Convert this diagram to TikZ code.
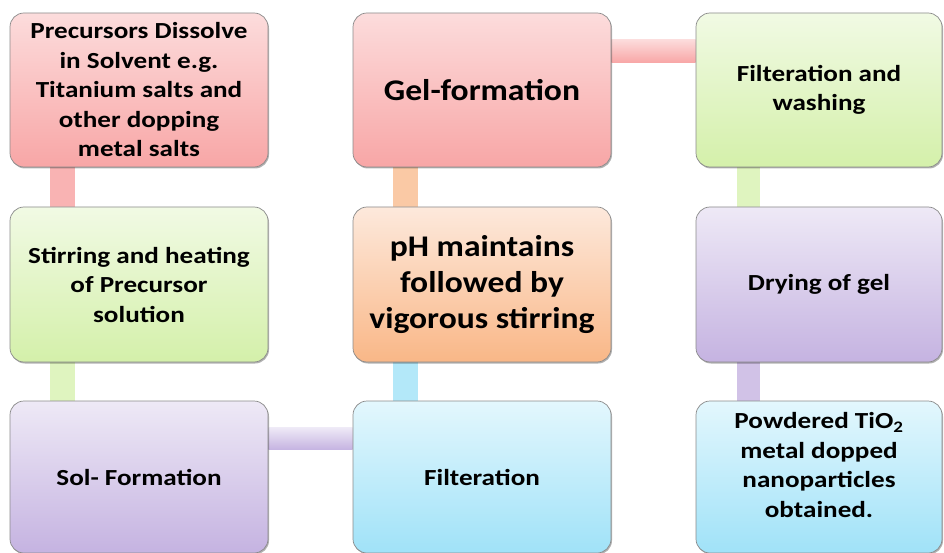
\documentclass[tikz,border=0pt]{standalone}
\usepackage{fontspec}
\setmainfont{Carlito}[FakeStretch=1.18]
\newfontfamily\bigfont{Carlito}[FakeStretch=1.12]
\usetikzlibrary{shadows,backgrounds,calc}
\definecolor{pinkT}{HTML}{FCDCDC}
\definecolor{pinkB}{HTML}{F8A6A6}
\definecolor{greenT}{HTML}{F1FAE4}
\definecolor{greenB}{HTML}{D4F0AA}
\definecolor{purpT}{HTML}{EEE9F6}
\definecolor{purpB}{HTML}{C5B3E1}
\definecolor{blueT}{HTML}{E3F7FD}
\definecolor{blueB}{HTML}{A0E2F8}
\definecolor{orT}{HTML}{FDE9DC}
\definecolor{orB}{HTML}{F9B787}
\definecolor{edge}{HTML}{8A8A8A}
\tikzset{
  box/.style={draw=edge, line width=0.7pt, rounded corners=14pt,
    minimum width=258pt, minimum height=154pt, align=center, inner sep=0pt,
    font=\bfseries\fontsize{23}{29.5}\selectfont,
    drop shadow={shadow xshift=1pt, shadow yshift=-1.5pt, opacity=0.3, fill=black}},
  bigtxt/.style={font=\bigfont\bfseries\fontsize{30}{36}\selectfont},
  pinkbox/.style={box, top color=pinkT, bottom color=pinkB},
  greenbox/.style={box, top color=greenT, bottom color=greenB},
  purpbox/.style={box, top color=purpT, bottom color=purpB},
  bluebox/.style={box, top color=blueT, bottom color=blueB},
  orbox/.style={box, top color=orT, bottom color=orB},
}
\begin{document}
\begin{tikzpicture}[x=1pt,y=-1pt]
\useasboundingbox (0,0) rectangle (944,553);
% column 1
\node[pinkbox] (p1) at (139,90) {Precursors Dissolve\\in Solvent e.g.\\Titanium salts and\\other dopping\\metal salts};
\node[greenbox, minimum height=155pt] (s2) at (139,284.5) {Stirring and heating\\of Precursor\\solution};
\node[purpbox, minimum height=152pt] (sf) at (139,477) {Sol- Formation};
% column 2
\node[bluebox, minimum height=152pt] (ft) at (482,477) {Filteration};
\node[orbox, bigtxt, minimum height=155pt] (ph) at (482,284.5) {pH maintains\\followed by\\vigorous stirring};
\node[pinkbox, bigtxt] (gel) at (482,90) {Gel-formation};
% column 3
\node[greenbox, minimum width=246pt] (fw) at (819,90) {Filteration and\\washing};
\node[purpbox, minimum width=246pt, minimum height=155pt] (dg) at (819,284.5) {Drying of gel};
\node[bluebox, minimum width=246pt, minimum height=152pt,
  label={[font=\bfseries\fontsize{23}{29.5}\selectfont, align=center, yshift=12pt]center:Powdered TiO\textsubscript{2}\\metal dopped\\nanoparticles\\obtained.}] (pw) at (819,477) {};
% connectors
\begin{scope}[on background layer]
\fill[pinkB!85!white] ($(p1.south west)+(40,0)$) rectangle ($(s2.north west)+(65,0)$);
\fill[greenB!75!white] ($(s2.south west)+(40,0)$) rectangle ($(sf.north west)+(65,0)$);
\shade[top color=purpT, bottom color=purpB] ($(sf.north east)+(0,27)$) rectangle ($(ft.north west)+(0,49)$);
\fill[blueB!80!white] ($(ft.north west)+(40,0)$) rectangle ($(ph.south west)+(65,0)$);
\fill[orB!75!white] ($(ph.north west)+(40,0)$) rectangle ($(gel.south west)+(65,0)$);
\shade[top color=pinkT, bottom color=pinkB] ($(gel.north east)+(0,27)$) rectangle ($(fw.north west)+(0,50)$);
\fill[greenB!75!white] ($(fw.south west)+(41,0)$) rectangle ($(dg.north west)+(64,0)$);
\fill[purpB!80!white] ($(dg.south west)+(41,0)$) rectangle ($(pw.north west)+(64,0)$);
\end{scope}
\end{tikzpicture}
\end{document}
